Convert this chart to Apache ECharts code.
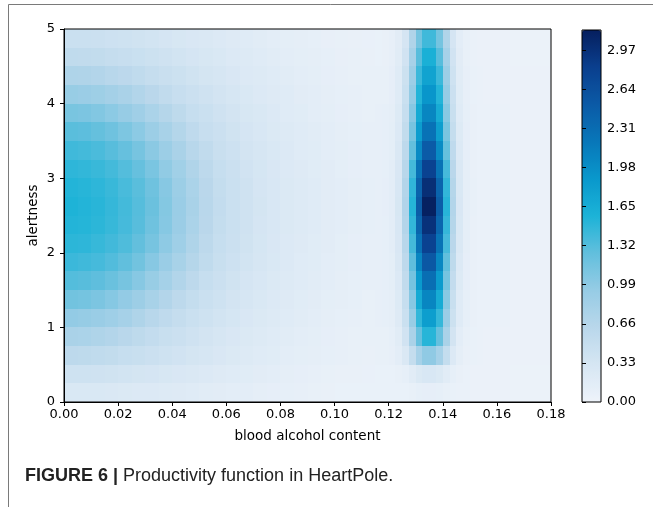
<!DOCTYPE html>
<html>
<head>
<meta charset="utf-8">
<script src="https://cdn.jsdelivr.net/npm/echarts@6/dist/echarts.min.js"></script>
<style>
  html, body { margin: 0; padding: 0; background: #fff; }
  #chart { width: 653px; height: 507px; }
</style>
</head>
<body>
<div id="chart"></div>
<script>
// ── Cell edges (x: blood alcohol content, y: alertness) ─────────────
// coarse 0.005 steps, finer 0.0025 steps around the sharp peak
const xEdges = [
  0, 0.005, 0.01, 0.015, 0.02, 0.025, 0.03, 0.035, 0.04, 0.045, 0.05, 0.055,
  0.06, 0.065, 0.07, 0.075, 0.08, 0.085, 0.09, 0.095, 0.1, 0.105, 0.11, 0.115,
  0.1175, 0.12, 0.1225, 0.125, 0.1275, 0.13, 0.1325, 0.135, 0.1375, 0.14,
  0.1425, 0.145, 0.1475, 0.15, 0.1525, 0.155,
  0.165, 0.18
];
const yEdges = [
  0, 0.25, 0.5, 0.75, 1, 1.25, 1.5, 1.75, 2, 2.25, 2.5,
  2.75, 3, 3.25, 3.5, 3.75, 4, 4.25, 4.5, 4.75, 5
];

// ── Productivity values, one row per y cell (bottom → top)
const row00 = [0.27,0.27,0.27,0.26,0.25,0.24,0.23,0.22,0.21,0.19,0.17,0.16,0.15,0.14,0.12,0.11,0.10,0.09,0.08,0.07,0.06,0.06,0.06, 0.06,0.06,0.06,0.06,0.06,0.08,0.10,0.11,0.11,0.10,0.08,0.06,0.05,0.05,0.04,0.04, 0.04,0.035];
const row01 = [0.40,0.40,0.39,0.38,0.36,0.34,0.33,0.30,0.28,0.26,0.23,0.21,0.20,0.18,0.16,0.14,0.12,0.11,0.09,0.08,0.07,0.07,0.065, 0.06,0.06,0.06,0.08,0.10,0.17,0.25,0.29,0.29,0.25,0.17,0.10,0.07,0.05,0.04,0.04, 0.04,0.035];
const row02 = [0.58,0.57,0.55,0.53,0.49,0.47,0.43,0.40,0.37,0.34,0.31,0.28,0.25,0.22,0.20,0.18,0.15,0.13,0.12,0.10,0.09,0.08,0.07, 0.08,0.08,0.09,0.14,0.26,0.51,0.80,0.98,0.98,0.80,0.51,0.24,0.12,0.07,0.06,0.05, 0.045,0.04];
const row03 = [0.76,0.75,0.72,0.68,0.63,0.57,0.52,0.47,0.43,0.39,0.35,0.31,0.28,0.25,0.22,0.20,0.17,0.15,0.13,0.11,0.09,0.08,0.08, 0.08,0.08,0.10,0.17,0.37,0.76,1.23,1.52,1.52,1.23,0.76,0.35,0.15,0.08,0.06,0.05, 0.045,0.04];
const row04 = [0.96,0.94,0.91,0.86,0.80,0.72,0.64,0.56,0.50,0.44,0.40,0.36,0.32,0.28,0.25,0.22,0.19,0.17,0.14,0.12,0.10,0.09,0.08, 0.09,0.10,0.12,0.21,0.44,0.92,1.47,1.82,1.82,1.46,0.91,0.42,0.19,0.10,0.07,0.05, 0.05,0.04];
const row05 = [1.16,1.14,1.10,1.04,0.96,0.88,0.78,0.68,0.59,0.51,0.44,0.40,0.35,0.31,0.27,0.23,0.21,0.18,0.16,0.13,0.12,0.10,0.08, 0.09,0.10,0.12,0.22,0.49,1.03,1.67,2.06,2.06,1.66,1.02,0.47,0.20,0.10,0.07,0.05, 0.05,0.04];
const row06 = [1.32,1.30,1.27,1.21,1.13,1.03,0.92,0.81,0.69,0.58,0.49,0.43,0.38,0.33,0.29,0.25,0.22,0.19,0.17,0.14,0.12,0.10,0.09, 0.09,0.10,0.13,0.24,0.54,1.15,1.86,2.30,2.30,1.85,1.14,0.52,0.22,0.11,0.07,0.05, 0.05,0.04];
const row07 = [1.43,1.41,1.38,1.33,1.26,1.16,1.03,0.91,0.78,0.66,0.55,0.47,0.41,0.36,0.31,0.27,0.23,0.20,0.18,0.15,0.13,0.11,0.09, 0.09,0.10,0.13,0.26,0.59,1.27,2.06,2.54,2.54,2.05,1.26,0.57,0.24,0.11,0.07,0.05, 0.05,0.04];
const row08 = [1.50,1.49,1.45,1.40,1.34,1.25,1.13,0.99,0.86,0.72,0.59,0.49,0.43,0.38,0.32,0.28,0.24,0.21,0.18,0.16,0.13,0.11,0.09, 0.09,0.10,0.14,0.28,0.64,1.39,2.25,2.79,2.79,2.24,1.38,0.62,0.26,0.12,0.07,0.05, 0.05,0.04];
const row09 = [1.54,1.53,1.50,1.45,1.38,1.30,1.18,1.04,0.90,0.75,0.62,0.51,0.44,0.39,0.33,0.29,0.25,0.22,0.19,0.16,0.14,0.12,0.10, 0.09,0.10,0.14,0.29,0.68,1.47,2.39,2.96,2.96,2.38,1.46,0.66,0.27,0.12,0.07,0.05, 0.05,0.04];
const row10 = [1.56,1.54,1.51,1.46,1.39,1.31,1.20,1.05,0.91,0.77,0.63,0.52,0.44,0.39,0.34,0.29,0.25,0.22,0.19,0.16,0.14,0.12,0.10, 0.09,0.11,0.14,0.30,0.70,1.53,2.49,3.12,3.12,2.48,1.52,0.68,0.28,0.12,0.08,0.05, 0.05,0.04];
const row11 = [1.54,1.52,1.49,1.44,1.37,1.29,1.18,1.03,0.89,0.75,0.62,0.51,0.44,0.39,0.33,0.29,0.25,0.22,0.19,0.16,0.14,0.12,0.10, 0.09,0.11,0.14,0.29,0.68,1.48,2.41,2.98,2.98,2.40,1.47,0.66,0.27,0.12,0.08,0.05, 0.05,0.04];
const row12 = [1.49,1.47,1.44,1.39,1.32,1.23,1.11,0.97,0.84,0.71,0.58,0.49,0.43,0.37,0.32,0.28,0.24,0.21,0.18,0.16,0.13,0.11,0.09, 0.09,0.10,0.14,0.28,0.64,1.39,2.25,2.79,2.79,2.24,1.38,0.62,0.26,0.12,0.07,0.05, 0.05,0.04];
const row13 = [1.41,1.39,1.36,1.30,1.23,1.13,1.01,0.89,0.76,0.64,0.54,0.46,0.41,0.35,0.31,0.27,0.23,0.20,0.18,0.15,0.13,0.11,0.09, 0.09,0.10,0.13,0.26,0.58,1.25,2.02,2.50,2.50,2.01,1.24,0.56,0.24,0.11,0.07,0.05, 0.05,0.04];
const row14 = [1.29,1.28,1.24,1.18,1.09,1.00,0.89,0.78,0.67,0.56,0.48,0.43,0.38,0.33,0.29,0.25,0.22,0.19,0.17,0.14,0.12,0.10,0.09, 0.09,0.10,0.13,0.24,0.53,1.13,1.83,2.25,2.25,1.82,1.12,0.51,0.22,0.11,0.07,0.05, 0.05,0.04];
const row15 = [1.12,1.10,1.06,1.00,0.93,0.85,0.75,0.66,0.57,0.49,0.44,0.39,0.35,0.30,0.27,0.23,0.20,0.18,0.15,0.13,0.11,0.09,0.08, 0.09,0.10,0.12,0.22,0.49,1.03,1.67,2.06,2.06,1.66,1.02,0.47,0.20,0.10,0.07,0.05, 0.05,0.04];
const row16 = [0.92,0.90,0.87,0.82,0.76,0.69,0.62,0.54,0.48,0.43,0.39,0.35,0.31,0.27,0.24,0.21,0.19,0.16,0.14,0.12,0.10,0.09,0.08, 0.08,0.08,0.11,0.20,0.45,0.95,1.54,1.90,1.90,1.54,0.95,0.43,0.18,0.09,0.06,0.05, 0.045,0.04];
const row17 = [0.72,0.71,0.68,0.64,0.60,0.55,0.50,0.46,0.42,0.38,0.34,0.31,0.28,0.24,0.22,0.19,0.17,0.15,0.13,0.11,0.09,0.08,0.075, 0.08,0.08,0.11,0.19,0.42,0.88,1.43,1.76,1.76,1.43,0.88,0.40,0.17,0.09,0.06,0.05, 0.045,0.04];
const row18 = [0.55,0.54,0.53,0.50,0.48,0.45,0.42,0.39,0.36,0.33,0.30,0.27,0.24,0.22,0.19,0.17,0.15,0.13,0.12,0.10,0.085,0.076,0.07, 0.06,0.07,0.09,0.17,0.37,0.80,1.30,1.60,1.60,1.30,0.80,0.37,0.16,0.08,0.05,0.04, 0.04,0.035];
const row19 = [0.44,0.44,0.43,0.41,0.40,0.38,0.36,0.33,0.30,0.28,0.26,0.23,0.21,0.19,0.17,0.15,0.13,0.12,0.10,0.085,0.078,0.07,0.065, 0.06,0.07,0.09,0.16,0.33,0.71,1.14,1.41,1.41,1.14,0.71,0.33,0.15,0.08,0.05,0.04, 0.04,0.035];

const rows = [row00, row01, row02, row03, row04, row05, row06, row07, row08, row09,
              row10, row11, row12, row13, row14, row15, row16, row17, row18, row19];

// ── Colour bar ──────────────────────────────────────────
const colorbarMax   = 3.14;
const colorbarTicks = [0, 0.33, 0.66, 0.99, 1.32, 1.65, 1.98, 2.31, 2.64, 2.97];
const cmap = ['#eef3fa', '#d6e6f3', '#b9d7eb', '#96cce5', '#62bfdd', '#1cb3d7',
              '#0998cc', '#0877b9', '#0b5aa6', '#0a3f8e', '#061f5e'];

// Build [x0, x1, y0, y1, value] cells
const cells = [];
rows.forEach((row, j) => {
  row.forEach((v, i) => {
    cells.push([xEdges[i], xEdges[i + 1], yEdges[j], yEdges[j + 1], v]);
  });
});

const FONT = "'DejaVu Sans', sans-serif";
const tickLabel = { fontFamily: FONT, fontSize: 13, color: '#000' };
const nameStyle = { fontFamily: FONT, fontSize: 13.5, color: '#000' };

const chart = echarts.init(document.getElementById('chart'));

chart.setOption({
  animation: false,
  backgroundColor: '#fff',

  grid: [
    { left: 64, top: 29, width: 487, height: 373, show: true, z: 10,
      backgroundColor: 'transparent', borderColor: '#000', borderWidth: 1 },
    { left: 582, top: 30, width: 19, height: 372, show: true, z: 10,
      backgroundColor: 'transparent', borderColor: '#000', borderWidth: 1 },
  ],

  xAxis: [
    {
      type: 'value', gridIndex: 0, min: 0, max: 0.18, interval: 0.02,
      name: 'blood alcohol content', nameLocation: 'middle', nameGap: 27,
      nameTextStyle: nameStyle,
      splitLine: { show: false },
      axisLine: { show: true, onZero: false, lineStyle: { color: '#000', width: 1 } },
      axisTick: { show: true, length: 4, lineStyle: { color: '#000' } },
      axisLabel: { ...tickLabel, margin: 6, formatter: v => v.toFixed(2) },
      z: 10,
    },
    {
      type: 'value', gridIndex: 1, min: 0, max: 1, show: false,
    },
  ],

  yAxis: [
    {
      type: 'value', gridIndex: 0, min: 0, max: 5, interval: 1,
      name: 'alertness', nameLocation: 'middle', nameGap: 24, nameMoveOverlap: false,
      nameTextStyle: nameStyle,
      splitLine: { show: false },
      axisLine: { show: true, onZero: false, lineStyle: { color: '#000', width: 1 } },
      axisTick: { show: true, length: 4, lineStyle: { color: '#000' } },
      axisLabel: { ...tickLabel, margin: 9 },
      z: 10,
    },
    {
      type: 'value', gridIndex: 1, position: 'right', min: 0, max: colorbarMax,
      interval: 0.33,
      splitLine: { show: false },
      axisLine: { show: false },
      axisTick: { show: true, length: 4, lineStyle: { color: '#000' }, customValues: colorbarTicks },
      axisLabel: { ...tickLabel, margin: 6, customValues: colorbarTicks,
                   formatter: v => (v > 3 ? '' : v.toFixed(2)) },
      z: 10,
    },
  ],

  visualMap: {
    type: 'continuous',
    seriesIndex: 0,
    dimension: 4,
    min: 0,
    max: colorbarMax,
    calculable: false,
    hoverLink: false,
    orient: 'vertical',
    left: 582,
    top: 30,
    padding: 0,
    itemWidth: 19,
    itemHeight: 372,
    inRange: { color: cmap },
    z: 4,
  },

  graphic: [
    { type: 'line', silent: true, z: 20,
      shape: { x1: 8.5, y1: 4.5, x2: 653, y2: 4.5 },
      style: { stroke: '#7a7a7a', lineWidth: 1 } },
    { type: 'line', silent: true, z: 20,
      shape: { x1: 8.5, y1: 4.5, x2: 8.5, y2: 507 },
      style: { stroke: '#7a7a7a', lineWidth: 1 } },
    { type: 'text', silent: true, z: 20, left: 25, top: 467,
      style: {
        text: '{b|FIGURE 6 | }{n|Productivity function in HeartPole.}',
        rich: {
          b: { fontFamily: "'Liberation Sans', Arial, sans-serif", fontWeight: 'bold', fontSize: 18, fill: '#222' },
          n: { fontFamily: "'Liberation Sans', Arial, sans-serif", fontSize: 18, fill: '#222' },
        },
      } },
  ],

  series: [{
    type: 'custom',
    xAxisIndex: 0,
    yAxisIndex: 0,
    silent: true,
    encode: { x: [0, 1], y: [2, 3] },
    data: cells,
    renderItem(params, api) {
      const p0 = api.coord([api.value(0), api.value(3)]);
      const p1 = api.coord([api.value(1), api.value(2)]);
      const x0 = Math.round(p0[0]), y0 = Math.round(p0[1]);
      const x1 = Math.round(p1[0]), y1 = Math.round(p1[1]);
      return {
        type: 'rect',
        shape: { x: x0, y: y0, width: x1 - x0, height: y1 - y0 },
        style: { fill: api.visual('color') },
      };
    },
  }],
});
</script>
</body>
</html>
